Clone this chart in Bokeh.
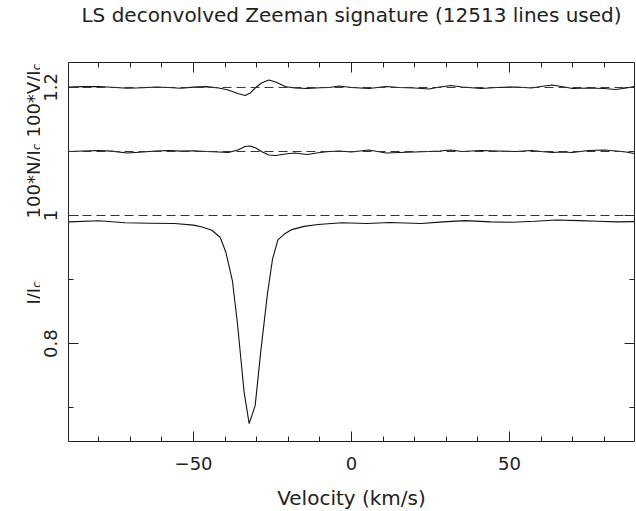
import math
from bokeh.plotting import figure
from bokeh.layouts import row
from bokeh.models import Range1d, LinearAxis, FixedTicker, Span, Title
from bokeh.core.properties import value
from bokeh.embed import file_html
from bokeh.resources import INLINE

# ---------------- data ----------------
velocity_i = [-89.5, -80, -71.7, -64, -56, -50, -47.3, -44.2, -41.6, -39.8,
              -37.7, -36.1, -34.0, -32.4, -30.5, -28.7, -26.6, -25.0, -23.3, -21,
              -18.9, -15, -10.6, -3.1, 5, 12, 22, 29, 36, 44,
              51, 58, 65, 72, 78, 84, 89.5]
stokes_i = [0.990, 0.9917, 0.9886, 0.988, 0.9875, 0.985, 0.982, 0.977, 0.966, 0.943,
            0.898, 0.831, 0.724, 0.675, 0.703, 0.789, 0.878, 0.932, 0.962, 0.972,
            0.978, 0.983, 0.986, 0.9886, 0.9875, 0.989, 0.9875, 0.990, 0.992, 0.990,
            0.9895, 0.991, 0.993, 0.992, 0.991, 0.990, 0.9905]

velocity_vn = [-89.5, -85, -80, -76, -71, -66, -62, -58, -54, -50,
               -46, -42, -39, -36, -33.7, -32, -30.3, -28.5, -26.2, -24,
               -21, -18, -14, -10, -7, -4, 0, 5.5, 11, 15,
               20, 24.5, 28, 31.4, 35, 41, 46, 52, 57, 60,
               63.5, 66.5, 70, 75, 80, 83.7, 87, 89.5]
stokes_v = [0.0008, 0.0013, 0.0016, 0.0003, -0.0013, -0.0005, 0.0008, 0.0, -0.0013, 0.0005,
            0.0013, -0.0008, -0.0039, -0.0094, -0.0125, -0.0086, 0.0, 0.0070, 0.0117, 0.0086,
            0.0016, -0.0008, -0.0016, -0.0005, 0.0, 0.0023, 0.0, -0.0016, 0.0016, 0.0,
            -0.0008, -0.0023, 0.0008, 0.0031, 0.0008, -0.0016, 0.0, 0.0008, -0.0008, 0.0016,
            0.0039, 0.0016, -0.0016, -0.0008, -0.0016, -0.0031, -0.0008, 0.0016]
null_n = [0.0, 0.0008, 0.0016, 0.0005, -0.0023, -0.0008, 0.0008, 0.0016, 0.0005, 0.0011,
          0.0, -0.0008, -0.0016, 0.0023, 0.0078, 0.0086, 0.0055, 0.0, -0.0055, -0.0063,
          -0.0039, -0.0023, -0.0047, -0.0016, 0.0, 0.0008, -0.0008, 0.0023, -0.0023, -0.0016,
          -0.0008, 0.0, 0.0008, 0.0023, 0.0, 0.0016, 0.0008, 0.0, 0.0016, 0.0,
          -0.0016, -0.0008, -0.0016, 0.0016, 0.0023, 0.0008, -0.0008, -0.0031]

continuum_level = 1.0
offset_n = 1.1
offset_v = 1.2

x_limits = (-89.6, 89.6)
y_limits = (0.647, 1.239)
x_major = [-50, 0, 50]
x_minor = [-80, -70, -60, -40, -30, -20, -10, 10, 20, 30, 40, 60, 70, 80]
x_tick_labels = {-50: "\u221250", 0: "0", 50: "50"}
y_major = [0.8, 1.0, 1.2]
y_minor = [0.7, 0.9, 1.1]
y_tick_labels = {0.8: "0.8", 1.0: "1", 1.2: "1.2"}

title_text = "LS deconvolved Zeeman signature (12513 lines used)"
x_label_text = "Velocity (km/s)"
y_label_main = ["100*V/I", "100*N/I", "I/I"]
y_label_sub = ["c", "c", "c"]

FONT = "DejaVu Sans"
INK = "#222222"
W, H = 636, 511
LABEL_W = 40
FRAME_TOP, FRAME_H = 62, 379

# ---------------- y-label strip (left) ----------------
shared_y = Range1d(*y_limits)
y_junction_px = [70, 150, 288]    # page y where each main text ends and its subscript starts
def px_to_y(py):
    return y_limits[1] - (py - FRAME_TOP) * (y_limits[1] - y_limits[0]) / FRAME_H
yy = [px_to_y(v) for v in y_junction_px]

strip = figure(width=LABEL_W, height=H, x_range=Range1d(0, LABEL_W), y_range=shared_y,
               output_backend="svg", toolbar_location=None,
               x_axis_location=None, y_axis_location=None,
               min_border_left=0, min_border_right=0,
               min_border_top=FRAME_TOP, min_border_bottom=H - FRAME_TOP - FRAME_H)
strip.grid.visible = False
strip.outline_line_color = None
strip.text(x=[33] * 3, y=yy, text=y_label_main, angle=math.pi / 2,
           text_align="right", text_baseline="alphabetic",
           text_font=value(FONT), text_font_size="18px", text_color=INK)
strip.text(x=[35.5] * 3, y=yy, text=y_label_sub, angle=math.pi / 2,
           text_align="left", text_baseline="alphabetic",
           text_font=value(FONT), text_font_size="13px", text_color=INK)

# ---------------- main figure ----------------
p = figure(frame_width=566, frame_height=FRAME_H,
           x_range=Range1d(*x_limits), y_range=shared_y,
           output_backend="svg", toolbar_location=None,
           min_border_left=68 - LABEL_W, min_border_right=2,
           min_border_top=FRAME_TOP, min_border_bottom=H - FRAME_TOP - FRAME_H,
           background_fill_color="white", border_fill_color="white")
p.title = None
p.grid.visible = False
p.outline_line_color = INK
p.outline_line_width = 1

xb = p.xaxis[0]
xb.ticker = FixedTicker(ticks=x_major, minor_ticks=x_minor)
xb.major_label_overrides = x_tick_labels
xb.axis_label = x_label_text
xb.axis_label_text_font = FONT
xb.axis_label_text_font_size = "20px"
xb.axis_label_text_font_style = "normal"
xb.axis_label_text_color = INK
xb.axis_label_standoff = 13
yl = p.yaxis[0]
yl.ticker = FixedTicker(ticks=y_major, minor_ticks=y_minor)
yl.major_label_overrides = y_tick_labels
yl.major_label_orientation = "vertical"

for ax in (xb, yl):
    ax.axis_line_color = None
    ax.major_tick_in = 10
    ax.major_tick_out = 0
    ax.minor_tick_in = 5
    ax.minor_tick_out = 0
    ax.major_tick_line_color = INK
    ax.minor_tick_line_color = INK
    ax.major_label_text_font = FONT
    ax.major_label_text_font_size = "18px"
    ax.major_label_text_color = INK
    ax.major_label_text_font_style = "normal"
xb.major_label_standoff = 15
yl.major_label_standoff = 11

top_ax = LinearAxis(ticker=FixedTicker(ticks=x_major, minor_ticks=x_minor),
                    major_label_overrides={k: "" for k in x_major})
right_ax = LinearAxis(ticker=FixedTicker(ticks=y_major, minor_ticks=y_minor),
                      major_label_overrides={k: "" for k in y_major})
for ax in (top_ax, right_ax):
    ax.axis_line_color = None
    ax.major_tick_in = 10
    ax.major_tick_out = 0
    ax.minor_tick_in = 5
    ax.minor_tick_out = 0
    ax.major_tick_line_color = INK
    ax.minor_tick_line_color = INK
    ax.major_label_standoff = 0
    ax.major_label_text_font_size = "1px"
p.add_layout(top_ax, "above")
p.add_layout(right_ax, "right")

# spacer + title in the top panel (stacked outward from the frame)
p.add_layout(Title(text="\u00a0", text_font=FONT, text_font_size="20px", standoff=10,
                   text_color="white"), "above")
p.add_layout(Title(text=title_text, align="center", offset=4, standoff=0,
                   text_font=FONT, text_font_size="20px", text_font_style="normal",
                   text_color=INK), "above")

# dashed reference levels
for lvl in (continuum_level, offset_n, offset_v):
    p.add_layout(Span(location=lvl, dimension="width", line_dash="9 5",
                      line_color="#333333", line_width=1))

# profiles
p.line(velocity_i, stokes_i, line_color="#111111", line_width=1.1)
p.line(velocity_vn, [offset_n + n for n in null_n], line_color="#111111", line_width=1.1)
p.line(velocity_vn, [offset_v + v for v in stokes_v], line_color="#111111", line_width=1.1)

layout = row(strip, p, spacing=0)
open("out.html", "w").write(file_html(layout, INLINE))
